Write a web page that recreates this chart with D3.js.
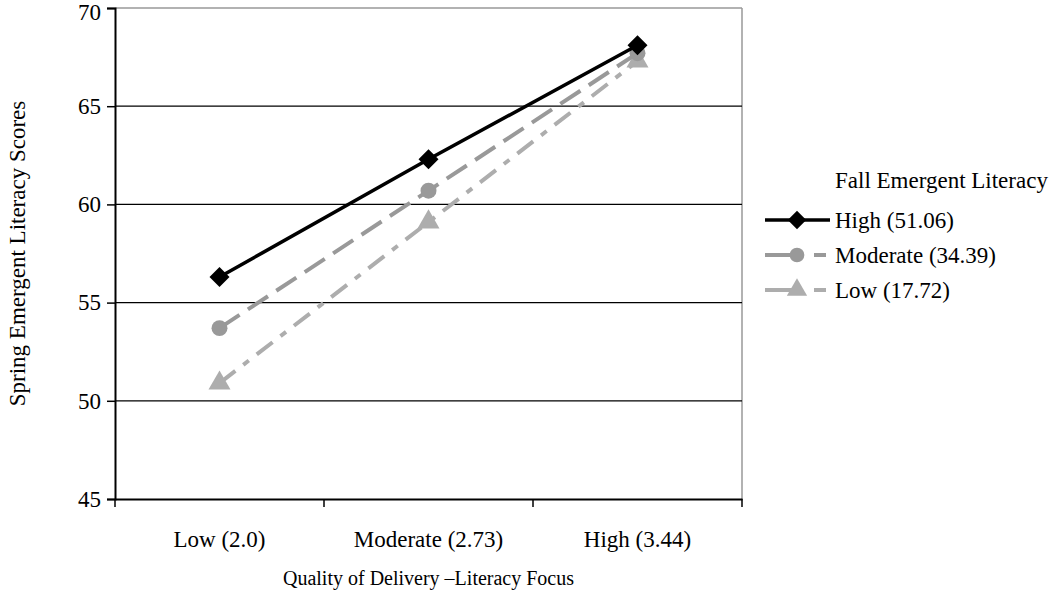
<!DOCTYPE html>
<html>
<head>
<meta charset="utf-8">
<script src="https://cdn.jsdelivr.net/npm/d3@7"></script>
<style>
  body { margin: 0; background: #fff; }
  text { font-family: "Liberation Serif", "Times New Roman", serif; fill: #000; }
</style>
</head>
<body>
<div id="chart"></div>
<script>
var width = 1050, height = 591;

// data
var categories = ["Low (2.0)", "Moderate (2.73)", "High (3.44)"];
var seriesNames = ["High (51.06)", "Moderate (34.39)", "Low (17.72)"];
var highValues = [56.3, 62.3, 68.1];
var moderateValues = [53.7, 60.7, 67.7];
var lowValues = [50.9, 59.1, 67.3];
var yTicks = [45, 50, 55, 60, 65, 70];

// diamond = square turned 45 degrees
var diamond = {
  draw: function(ctx, size) {
    var r = Math.sqrt(size / 2);
    ctx.moveTo(0, -r); ctx.lineTo(r, 0); ctx.lineTo(0, r); ctx.lineTo(-r, 0); ctx.closePath();
  }
};

var series = [
  { name: seriesNames[0], values: highValues, color: "#000", width: 3.5, dash: null, symbol: diamond, size: 200 },
  { name: seriesNames[1], values: moderateValues, color: "#999", width: 4, dash: "24,10", symbol: d3.symbolCircle, size: 200 },
  { name: seriesNames[2], values: lowValues, color: "#adadad", width: 4, dash: "20,10,7,10", symbol: d3.symbolTriangle, size: 210 }
];

var margin = { left: 115, right: 308, top: 8, bottom: 92 };
var plotW = width - margin.left - margin.right;
var plotH = height - margin.top - margin.bottom;
var fontSize = "23px";

var svg = d3.select("#chart")
  .append("svg")
  .attr("width", width)
  .attr("height", height);

var g = svg.append("g")
  .attr("transform", "translate(" + margin.left + "," + margin.top + ")");

var x = d3.scaleBand().domain(categories).range([0, plotW]);
var y = d3.scaleLinear().domain([45, 70]).range([plotH, 0]);

// plot border (gray top and right)
g.append("line").attr("x1", 0).attr("x2", plotW).attr("y1", 0).attr("y2", 0)
  .style("stroke", "#999").style("stroke-width", 1.5);
g.append("line").attr("x1", plotW).attr("x2", plotW).attr("y1", 0).attr("y2", plotH)
  .style("stroke", "#999").style("stroke-width", 1.5);

// gridlines
g.selectAll(".grid")
  .data(yTicks.filter(function(d) { return d > 45 && d < 70; }))
  .enter()
  .append("line")
  .attr("x1", 0).attr("x2", plotW)
  .attr("y1", function(d) { return y(d); })
  .attr("y2", function(d) { return y(d); })
  .style("stroke", "#000")
  .style("stroke-width", 1.3);

// y axis
var yAxis = g.append("g")
  .call(d3.axisLeft(y).tickValues(yTicks).tickSize(8).tickPadding(6));
yAxis.select(".domain").style("stroke", "#000").style("stroke-width", 2);
yAxis.selectAll(".tick line").style("stroke", "#000").style("stroke-width", 1.5);
yAxis.selectAll("text").style("font-size", fontSize)
  .attr("dy", function(d) { return d === 70 ? "0.5em" : "0.32em"; });

// x axis: ticks at category boundaries
var xAxis = g.append("g")
  .attr("transform", "translate(0," + plotH + ")")
  .call(d3.axisBottom(x).tickSize(0).tickPadding(32));
xAxis.select(".domain").style("stroke", "#000").style("stroke-width", 2);
xAxis.selectAll("text").style("font-size", fontSize);
var bounds = [0].concat(categories.map(function(c) { return x(c) + x.bandwidth(); }));
xAxis.selectAll(".bound")
  .data(bounds)
  .enter()
  .append("line")
  .attr("x1", function(d) { return d; })
  .attr("x2", function(d) { return d; })
  .attr("y1", 0).attr("y2", 8)
  .style("stroke", "#000").style("stroke-width", 1.5);

// lines
var line = d3.line()
  .x(function(d, i) { return x(categories[i]) + x.bandwidth() / 2; })
  .y(function(d) { return y(d); });

series.slice().reverse().forEach(function(s) {
  g.append("path")
    .datum(s.values)
    .attr("d", line)
    .style("fill", "none")
    .style("stroke", s.color)
    .style("stroke-width", s.width)
    .style("stroke-dasharray", s.dash);
  g.selectAll(null)
    .data(s.values)
    .enter()
    .append("path")
    .attr("d", d3.symbol().type(s.symbol).size(s.size))
    .attr("transform", function(d, i) {
      return "translate(" + (x(categories[i]) + x.bandwidth() / 2) + "," + y(d) + ")";
    })
    .style("fill", s.color);
});

// axis titles
svg.append("text")
  .attr("x", margin.left + plotW / 2)
  .attr("y", 585)
  .attr("text-anchor", "middle")
  .style("font-size", "20px")
  .text("Quality of Delivery \u2013Literacy Focus");

svg.append("text")
  .attr("transform", "translate(25," + (margin.top + plotH / 2) + ") rotate(-90)")
  .attr("text-anchor", "middle")
  .style("font-size", fontSize)
  .text("Spring Emergent Literacy Scores");

// legend
var legend = svg.append("g").attr("transform", "translate(765,0)");
legend.append("text")
  .attr("x", 70).attr("y", 188)
  .style("font-size", fontSize)
  .text("Fall Emergent Literacy");

series.forEach(function(s, i) {
  var ly = 220 + i * 35;
  legend.append("line")
    .attr("x1", 0).attr("x2", 65)
    .attr("y1", ly).attr("y2", ly)
    .style("stroke", s.color)
    .style("stroke-width", s.width)
    .style("stroke-dasharray", s.dash ? "33,16,12,100" : null);
  legend.append("path")
    .attr("d", d3.symbol().type(s.symbol).size(s.size * 0.85))
    .attr("transform", "translate(32," + ly + ")")
    .style("fill", s.color);
  legend.append("text")
    .attr("x", 70).attr("y", ly + 8)
    .style("font-size", fontSize)
    .text(s.name);
});
</script>
</body>
</html>
